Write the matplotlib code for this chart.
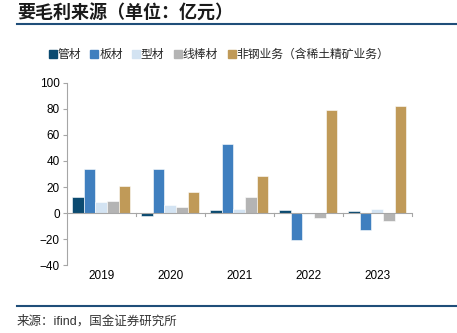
import numpy as np
import matplotlib.pyplot as plt
from matplotlib.lines import Line2D

plt.rcParams['font.family'] = ['Liberation Sans', 'Noto Sans CJK SC', 'DejaVu Sans']

# 毛利构成数据（亿元）
years = ['2019', '2020', '2021', '2022', '2023']
series_names = ['管材', '板材', '型材', '线棒材', '非钢业务（含稀土精矿业务）']
guancai = [12.5, -2.0, 2.0, 2.0, 1.3]
bancai = [33.5, 33.5, 53.0, -20.5, -12.8]
xingcai = [8.4, 6.0, 3.3, -0.8, 3.0]
xianbang = [9.0, 4.6, 12.3, -3.8, -5.9]
feigang = [21.0, 16.4, 28.6, 79.3, 82.6]
colors = ['#0B4A70', '#3F7FBF', '#D3E3F2', '#B4B4B4', '#C09A58']

data = [guancai, bancai, xingcai, xianbang, feigang]

fig = plt.figure(figsize=(4.57, 3.33), dpi=100)
ax = fig.add_axes([0.146, 0.204, 0.755, 0.547])

x = np.arange(len(years))
w = 0.167
for i, (vals, name, c) in enumerate(zip(data, series_names, colors)):
    ax.bar(x + (i - 2) * w, vals, width=w, color=c, edgecolor='white',
           linewidth=0.4, label=name, zorder=2)

ax.set_xlim(-0.5, 4.5)
ax.set_ylim(-40, 100)
ax.set_yticks(range(-40, 101, 20))
ax.set_xticks([])
for s in ['top', 'right', 'bottom']:
    ax.spines[s].set_visible(False)
ax.spines['left'].set_color('#A6A6A6')
ax.spines['left'].set_linewidth(0.8)
ax.tick_params(axis='y', length=3, width=0.8, color='#A6A6A6',
               labelsize=8.5, pad=2)

# 零线及分隔刻度
ax.axhline(0, color='#A6A6A6', lw=0.8, zorder=3)
for b in np.arange(0.5, 5.0, 1.0):
    ax.plot([b, b], [0, -2], color='#A6A6A6', lw=0.8, zorder=3, clip_on=False)
for i, y in enumerate(years):
    ax.text(i, -44, y, ha='center', va='top', fontsize=8.5)

handles = [Line2D([], [], marker='s', ls='', color=c, markersize=6) for c in colors]
fig.legend(handles, series_names, loc='center left', bbox_to_anchor=(0.097, 0.835),
           ncol=5, frameon=False, fontsize=8.5, handlelength=0.6,
           handletextpad=0.1, columnspacing=0.85, borderaxespad=0,
           labelcolor='#262626')

# 标题与来源
fig.text(0.037, 0.985, '要毛利来源（单位：亿元）', fontsize=13, fontweight='bold',
         style='italic', va='top', ha='left', color='#1A1A1A')
fig.add_artist(Line2D([0.037, 1.0], [0.928, 0.928], color='#1F4E79', lw=1.5))
fig.add_artist(Line2D([0.037, 1.0], [0.081, 0.081], color='#1F4E79', lw=1.5))
fig.text(0.037, 0.036, '来源：ifind，国金证券研究所', fontsize=9, va='center',
         ha='left', color='#333333')

plt.savefig('out.png', dpi=100)
